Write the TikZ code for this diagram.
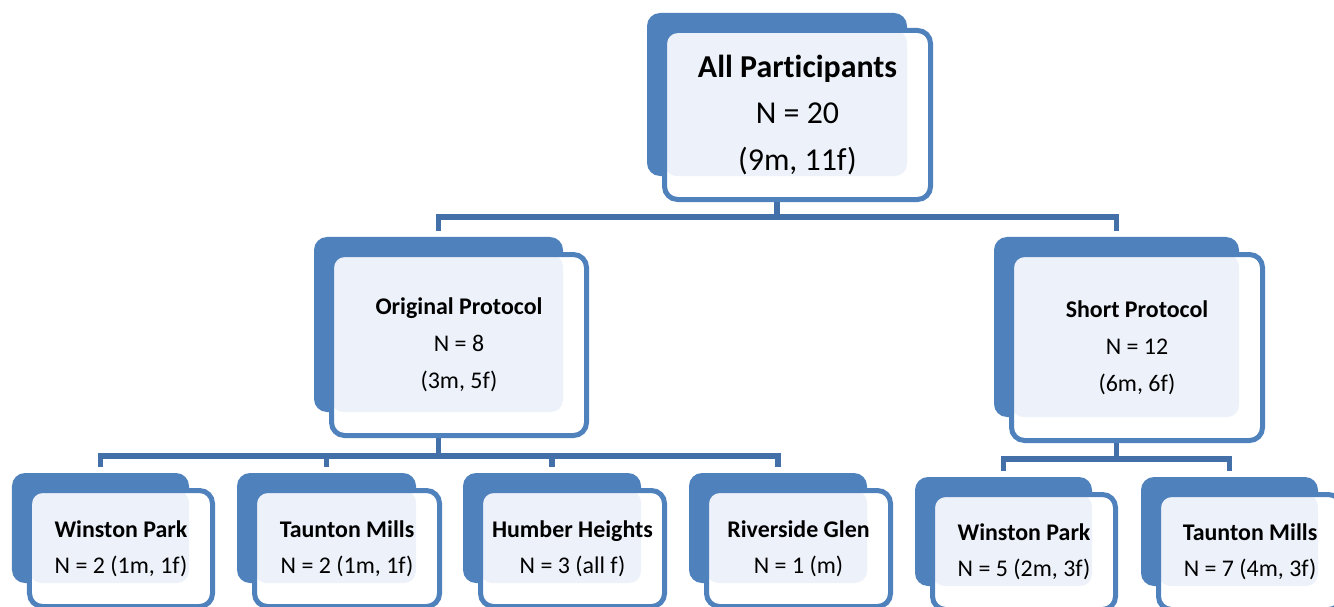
\documentclass[tikz,border=0pt]{standalone}
\usepackage{fontspec}
\setmainfont[Ligatures=NoCommon]{Carlito}
\usetikzlibrary{backgrounds}
\definecolor{obblue}{HTML}{4F81BD}
\definecolor{obline}{HTML}{4470AA}
\definecolor{oblight}{HTML}{EDF1F9}
\tikzset{
  backbox/.style={fill=obblue, rounded corners=13bp, inner sep=0pt, outer sep=0pt},
  frontbox/.style={fill=white, draw=obblue, line width=5bp, rounded corners=13bp,
    inner sep=0pt, outer sep=0pt, align=center, text=black,
    path picture={\fill[oblight, rounded corners=12bp] (path picture bounding box.north west)
      rectangle ([xshift=-23.5bp,yshift=23.5bp]path picture bounding box.south east);}},
  conn/.style={draw=obline, line width=5.5bp},
  ftop/.style={font=\fontsize{32}{47}\selectfont},
  fmid/.style={font=\fontsize{24}{37}\selectfont},
  fbot/.style={font=\fontsize{24}{36}\selectfont}
}
\newcommand\orgbox[7]{%
  \pgfmathsetmacro\obbcx{(#3+#5)/2-20.5}%
  \pgfmathsetmacro\obbcy{(#4+#6)/2-20.5}%
  \pgfmathsetmacro\obbw{#5-#3-11}%
  \pgfmathsetmacro\obbh{#6-#4-11}%
  \pgfmathsetmacro\obfcx{(#3+#5)/2}%
  \pgfmathsetmacro\obfcy{(#4+#6)/2}%
  \pgfmathsetmacro\obfw{#5-#3-5}%
  \pgfmathsetmacro\obfh{#6-#4-5}%
  \node[backbox, minimum width=\obbw bp, minimum height=\obbh bp] (#1-back) at (\obbcx,\obbcy) {};
  \node[frontbox, #2, minimum width=\obfw bp, minimum height=\obfh bp] (#1) at (\obfcx,\obfcy) {#7};
}
\begin{document}
\begin{tikzpicture}[x=1bp,y=-1bp]
\useasboundingbox (0,0) rectangle (1334,607);
\clip (0,0) rectangle (1334,607);

\orgbox{top}{ftop}{662}{28}{933}{202}{\textbf{All Participants}\\N = 20\\(9m, 11f)}
\orgbox{orig}{fmid}{329}{252}{589}{438}{\textbf{Original Protocol}\\N = 8\\(3m, 5f)}
\orgbox{short}{fmid}{1009}{252}{1265}{443}{\textbf{Short Protocol}\\N = 12\\(6m, 6f)}
\orgbox{wp1}{fbot}{27}{488}{215}{609}{\textbf{Winston Park}\\N = 2 (1m, 1f)}
\orgbox{tm1}{fbot}{252}{488}{442}{609}{\textbf{Taunton Mills}\\N = 2 (1m, 1f)}
\orgbox{hh}{fbot}{478}{488}{667}{609}{\textbf{Humber Heights}\\N = 3 (all f)}
\orgbox{rg}{fbot}{704}{488}{893}{609}{\textbf{Riverside Glen}\\N = 1 (m)}
\orgbox{wp2}{fbot}{930}{492}{1118}{612}{\textbf{Winston Park}\\N = 5 (2m, 3f)}
\orgbox{tm2}{fbot}{1156}{492}{1344}{612}{\textbf{Taunton Mills}\\N = 7 (4m, 3f)}

\coordinate (bus0) at (0,217);
\coordinate (bus1) at (0,456);
\coordinate (bus2) at (0,459);

\begin{pgfonlayer}{background}
\fill[white] (0,0) rectangle (1334,607);
\draw[conn] (top-back) |- (bus0 -| orig-back) -- ([yshift=6bp]orig-back.north);
\draw[conn] (top-back) |- (bus0 -| short-back) -- ([yshift=6bp]short-back.north);
\draw[conn] (orig-back) |- (bus1 -| wp1-back) -- ([yshift=6bp]wp1-back.north);
\draw[conn] (orig-back) |- (bus1 -| tm1-back) -- ([yshift=6bp]tm1-back.north);
\draw[conn] (orig-back) |- (bus1 -| hh-back) -- ([yshift=6bp]hh-back.north);
\draw[conn] (orig-back) |- (bus1 -| rg-back) -- ([yshift=6bp]rg-back.north);
\draw[conn] (short-back) |- (bus2 -| wp2-back) -- ([yshift=6bp]wp2-back.north);
\draw[conn] (short-back) |- (bus2 -| tm2-back) -- ([yshift=6bp]tm2-back.north);
\end{pgfonlayer}
\end{tikzpicture}
\end{document}
